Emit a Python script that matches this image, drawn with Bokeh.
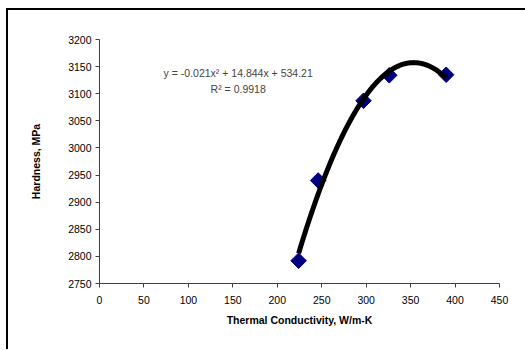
import numpy as np
from bokeh.plotting import figure
from bokeh.models import ColumnDataSource, Label, FixedTicker, Range1d
from bokeh.embed import file_html
from bokeh.resources import INLINE

# Data
conductivity = [224, 246, 297, 326, 390]
hardness = [2792, 2940, 3087, 3134, 3135]
trend_coeffs = [-0.021, 14.844, 534.21]   # y = a x^2 + b x + c (as displayed)
equation_text = "y = -0.021x\u00b2 + 14.844x + 534.21"
r2_text = "R\u00b2 = 0.9918"
x_ticks = [0, 50, 100, 150, 200, 250, 300, 350, 400, 450]
y_ticks = [2750, 2800, 2850, 2900, 2950, 3000, 3050, 3100, 3150, 3200]

FONT = "Liberation Sans"

p = figure(width=519, height=341, output_backend="svg", toolbar_location=None,
           x_range=Range1d(0, 450), y_range=Range1d(2750, 3200),
           min_border_left=91, min_border_right=28, min_border_top=29, min_border_bottom=68)
p.styles = {"margin-left": "6px", "margin-top": "8px",
            "border-left": "2px solid black", "border-top": "2px solid black"}
p.outline_line_color = None
p.xgrid.visible = False
p.ygrid.visible = False
p.background_fill_color = "white"
p.border_fill_color = "white"

# trendline
xs = np.linspace(min(conductivity), max(conductivity), 200)
ys = np.polyval(trend_coeffs, xs)

src = ColumnDataSource(dict(x=conductivity, y=hardness))
p.scatter("x", "y", source=src, marker="square", angle=np.pi / 4, size=11,
          fill_color="#000080", line_color="#000080")
p.line(xs, ys, line_color="black", line_width=5)

for ax in (p.xaxis[0], p.yaxis[0]):
    ax.axis_line_color = "#404040"
    ax.major_tick_line_color = "#404040"
    ax.minor_tick_line_color = None
    ax.major_tick_in = 0
    ax.major_tick_out = 4
    ax.major_label_text_font = FONT
    ax.major_label_text_font_size = "10.5px"
    ax.major_label_text_color = "black"
    ax.axis_label_text_font = FONT
    ax.axis_label_text_font_size = "10.5px"
    ax.axis_label_text_font_style = "bold"
    ax.axis_label_text_color = "black"

p.xaxis.ticker = FixedTicker(ticks=x_ticks)
p.yaxis.ticker = FixedTicker(ticks=y_ticks)
p.xaxis.axis_label = "Thermal Conductivity, W/m-K"
p.yaxis.axis_label = "Hardness, MPa"
p.xaxis.major_label_standoff = 8
p.xaxis.axis_label_standoff = 7
p.yaxis.major_label_standoff = 4
p.yaxis.axis_label_standoff = 23

p.add_layout(Label(x=156, y=3139, text=equation_text, text_align="center",
                   text_baseline="middle", text_font=FONT, text_font_size="10.5px"))
p.add_layout(Label(x=156, y=3109, text=r2_text, text_align="center",
                   text_baseline="middle", text_font=FONT, text_font_size="10.5px"))

open("out.html", "w").write(file_html(p, INLINE))
